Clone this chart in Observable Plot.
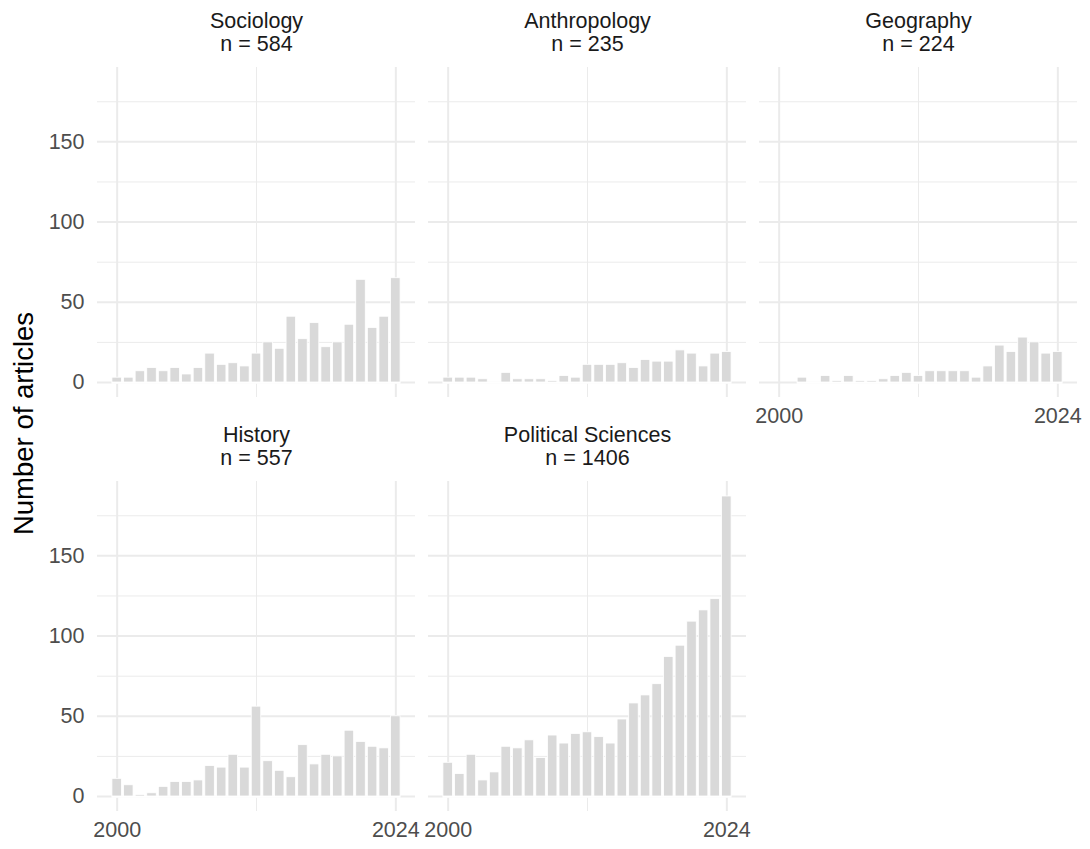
<!DOCTYPE html>
<html>
<head>
<meta charset="utf-8">
<script src="https://cdn.jsdelivr.net/npm/d3@7"></script>
<script src="https://cdn.jsdelivr.net/npm/@observablehq/plot@0.6"></script>
<style>
  html, body { margin: 0; padding: 0; background: #fff; }
</style>
</head>
<body>
<div id="chart"></div>
<script>
// ---- data ----
const disciplines = ["Sociology", "Anthropology", "Geography", "History", "Political Sciences"];
const totals = [584, 235, 224, 557, 1406];
const years = [2000, 2001, 2002, 2003, 2004, 2005, 2006, 2007, 2008, 2009, 2010, 2011, 2012,
               2013, 2014, 2015, 2016, 2017, 2018, 2019, 2020, 2021, 2022, 2023, 2024];
const sociology     = [3, 3, 7, 9, 7, 9, 5, 9, 18, 11, 12, 10, 18, 25, 21, 41, 27, 37, 22, 25, 36, 64, 34, 41, 65];
const anthropology  = [3, 3, 3, 2, 0, 6, 2, 2, 2, 1, 4, 3, 11, 11, 11, 12, 9, 14, 13, 13, 20, 18, 10, 18, 19];
const geography     = [null, null, 3, 0, 4, 1, 4, 1, 1, 2, 4, 6, 4, 7, 7, 7, 7, 3, 10, 23, 19, 28, 25, 18, 19];
const history       = [11, 7, 1, 2, 6, 9, 9, 10, 19, 18, 26, 18, 56, 22, 16, 12, 32, 20, 26, 25, 41, 34, 31, 30, 50];
const politicalSci  = [21, 14, 26, 10, 15, 31, 30, 35, 24, 38, 33, 39, 40, 37, 33, 48, 58, 63, 70, 87, 94, 109, 116, 123, 187];
const series = [sociology, anthropology, geography, history, politicalSci];

const yMajor = [0, 50, 100, 150];
const yMinor = [25, 75, 125, 175];
const xMajor = [2000, 2024];
const xMinor = [2012];
const yTitle = "Number of articles";

// ---- derived tables ----
const facets = disciplines.map((name, i) => ({name, n: totals[i], col: i % 3, row: Math.floor(i / 3)}));
const bars = [];
series.forEach((vals, i) => {
  vals.forEach((v, j) => {
    if (v !== null) bars.push({year: years[j], value: v, col: facets[i].col, row: facets[i].row});
  });
});
const spans = facets.map((f, i) => {
  const ys = years.filter((y, j) => series[i][j] !== null);
  return {col: f.col, row: f.row, x1: d3.min(ys) - 0.45, x2: d3.max(ys) + 0.45};
});
const cross = (fs, ticks) => fs.flatMap(f => ticks.map(v => ({v, col: f.col, row: f.row})));
// bottom facet of each column gets x labels, left column gets y labels
const bottomFacets = facets.filter(f => !facets.some(g => g.col === f.col && g.row > f.row));
const leftFacets = facets.filter(f => f.col === 0);

const grid = "#ebebeb";
const chart = Plot.plot({
  width: 1090,
  height: 849,
  marginLeft: 96.2,
  marginRight: 12,
  marginTop: 66.5,
  marginBottom: 37,
  style: {fontFamily: "'Liberation Sans', Arial, Helvetica, sans-serif", fontSize: "22px", background: "#fff"},
  fx: {domain: [0, 1, 2], axis: null, paddingInner: 0.0388, paddingOuter: 0},
  fy: {domain: [0, 1], axis: null, paddingInner: 0.2036, paddingOuter: 0},
  x: {domain: [1998.305, 2025.695], axis: null},
  y: {domain: [-9.35, 196.35], axis: null},
  marks: [
    Plot.ruleY(cross(facets, yMinor), {y: "v", fx: "col", fy: "row", stroke: grid, strokeWidth: 1}),
    Plot.ruleX(cross(facets, xMinor), {x: "v", fx: "col", fy: "row", stroke: grid, strokeWidth: 1}),
    Plot.ruleY(cross(facets, yMajor), {y: "v", fx: "col", fy: "row", stroke: grid, strokeWidth: 2}),
    Plot.ruleX(cross(facets, xMajor), {x: "v", fx: "col", fy: "row", stroke: grid, strokeWidth: 2}),
    Plot.ruleY(spans, {y: 0, x1: "x1", x2: "x2", fx: "col", fy: "row", stroke: "white", strokeWidth: 2.5}),
    Plot.rectY(bars, {
      x1: d => d.year - 0.41, x2: d => d.year + 0.41, y1: 0, y2: "value",
      fx: "col", fy: "row", fill: "#d9d9d9", stroke: "white", strokeWidth: 0.8
    }),
    // strip labels
    Plot.text(facets, {
      fx: "col", fy: "row", text: d => `${d.name}\nn = ${d.n}`,
      frameAnchor: "top", dy: -35, lineAnchor: "middle", lineHeight: 1.07,
      fontSize: 21.5, fill: "#1a1a1a"
    }),
    // y tick labels
    Plot.text(cross(leftFacets, yMajor), {
      fx: "col", fy: "row", y: "v", text: d => String(d.v),
      frameAnchor: "left", dx: -13, textAnchor: "end", fontSize: 21.5, fill: "#4d4d4d"
    }),
    // x tick labels
    Plot.text(cross(bottomFacets, xMajor), {
      fx: "col", fy: "row", x: "v", text: d => String(d.v),
      frameAnchor: "bottom", dy: 25, fontSize: 21.5, fill: "#4d4d4d"
    }),
    // y axis title
    Plot.text([yTitle], {
      fx: 0, fy: 0, text: d => d, frameAnchor: "bottom-left", dx: -64, dy: 26,
      rotate: -90, textAnchor: "middle", fontSize: 27.5, fill: "#000"
    })
  ]
});
document.getElementById("chart").appendChild(chart);
</script>
</body>
</html>
